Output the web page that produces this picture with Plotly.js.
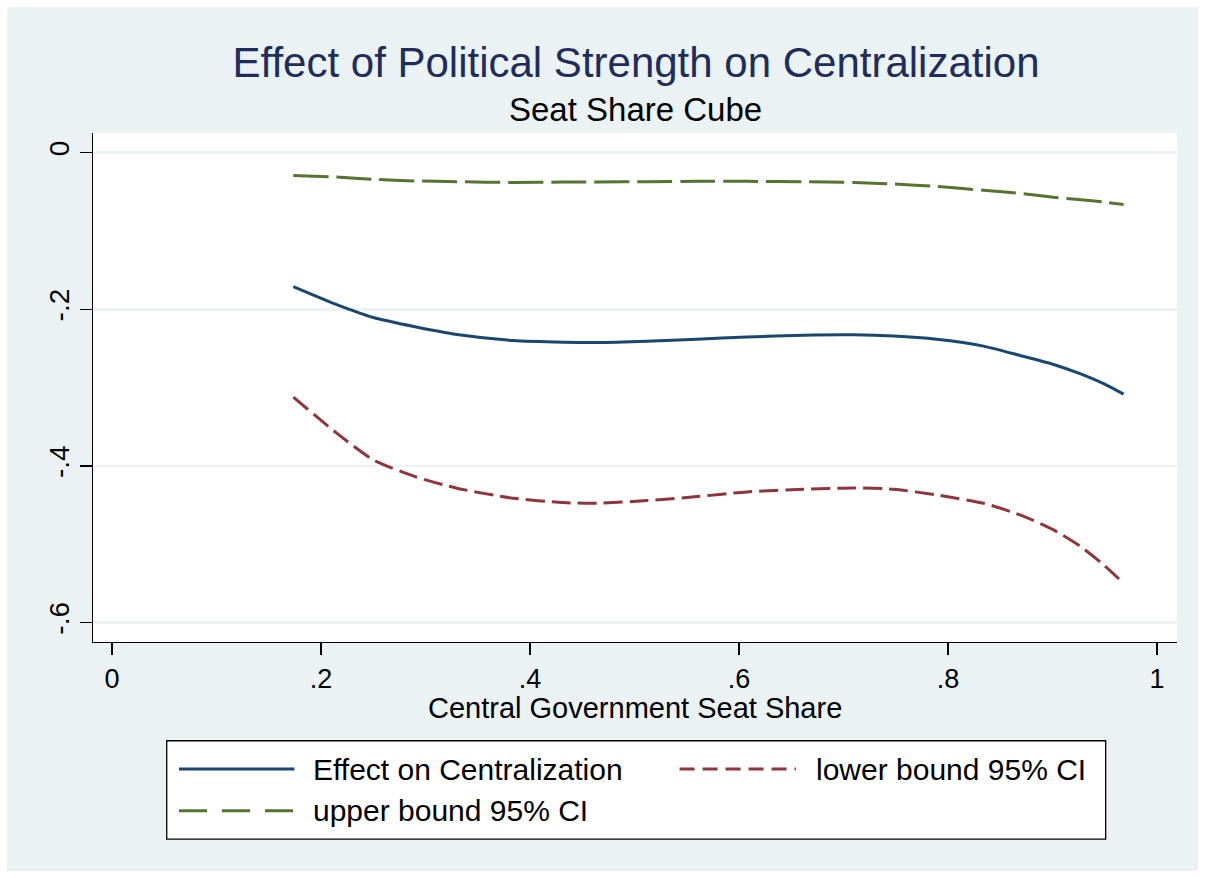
<!DOCTYPE html>
<html>
<head>
<meta charset="utf-8">
<script src="https://cdn.plot.ly/plotly-3.0.1.min.js"></script>
<style>
  html, body { margin: 0; padding: 0; background: #ffffff; width: 1205px; height: 878px; overflow: hidden; }
  #chart { position: absolute; left: 7px; top: 7px; width: 1191px; height: 864px; }
</style>
</head>
<body>
<div id="chart"></div>
<script>
// ---- data ----
const seatShare = [0.1735, 0.215, 0.25, 0.29, 0.33, 0.384, 0.432, 0.464, 0.512, 0.56, 0.6075,
                   0.662, 0.71, 0.748, 0.789, 0.834, 0.869, 0.901, 0.927, 0.949, 0.968];
const effect = [-0.171, -0.194, -0.2105, -0.2223, -0.2322, -0.2399, -0.2420, -0.2424, -0.2407, -0.2381, -0.2355,
                -0.2331, -0.2326, -0.2342, -0.2383, -0.2470, -0.2590, -0.2705, -0.2825, -0.2950, -0.3084];
const lowerCI = [-0.3122, -0.3582, -0.3923, -0.4137, -0.4285, -0.4413, -0.4469, -0.4477, -0.4443, -0.4392, -0.4332,
                 -0.4298, -0.4281, -0.4298, -0.4371, -0.4477, -0.4626, -0.4818, -0.5031, -0.5265, -0.5499];
const upperCI = [-0.029, -0.031, -0.034, -0.036, -0.037, -0.038, -0.0375, -0.0374, -0.037, -0.0365, -0.0366,
                 -0.037, -0.038, -0.040, -0.043, -0.048, -0.052, -0.057, -0.060, -0.063, -0.066];
const seriesNames = ["Effect on Centralization", "lower bound 95% CI", "upper bound 95% CI"];
const xTickVals = [0, 0.2, 0.4, 0.6, 0.8, 1];
const xTickText = ["0", ".2", ".4", ".6", ".8", "1"];
const yTickVals = [0, -0.2, -0.4, -0.6];
const yTickText = ["0", "-.2", "-.4", "-.6"];
const titleText = "Effect of Political Strength on Centralization";
const subtitleText = "Seat Share Cube";
const xTitleText = "Central Government Seat Share";

// ---- styles ----
const NAVY = "#1a476f", MAROON = "#90353b", GREEN = "#55752f";
const BG = "#eaf2f3";
const FONT = "Liberation Sans, Arial, sans-serif";

// geometry (div is offset 7px inside the page)
const W = 1191, H = 864;
const M = { l: 86, r: 21.3, t: 126.3, b: 229 };
const PW = W - M.l - M.r, PH = H - M.t - M.b;
// page pixel -> paper coords
function px(X) { return (X - 7 - M.l) / PW; }
function py(Y) { return (H - M.b - (Y - 7)) / PH; }

const traces = [
  { x: seatShare, y: effect, name: seriesNames[0], type: "scatter", mode: "lines",
    line: { color: NAVY, width: 3, shape: "spline", smoothing: 0.6 } },
  { x: seatShare, y: lowerCI, name: seriesNames[1], type: "scatter", mode: "lines",
    line: { color: MAROON, width: 3, dash: "19px,7px", shape: "spline", smoothing: 0.6 } },
  { x: seatShare, y: upperCI, name: seriesNames[2], type: "scatter", mode: "lines",
    line: { color: GREEN, width: 3, dash: "35px,8px", shape: "spline", smoothing: 0.6 } }
];

// custom legend (Stata style)
const leg = { x0: 166.7, x1: 1105.4, y0: 740.7, y1: 839 };
const rows = [769, 810.7];
const shapes = [
  { type: "rect", xref: "paper", yref: "paper", x0: px(leg.x0), x1: px(leg.x1), y0: py(leg.y1), y1: py(leg.y0),
    fillcolor: "#ffffff", line: { color: "#000000", width: 1.3 } },
  { type: "line", xref: "paper", yref: "paper", x0: px(179), x1: px(294.3), y0: py(rows[0]), y1: py(rows[0]),
    line: { color: NAVY, width: 3 } },
  { type: "line", xref: "paper", yref: "paper", x0: px(679.4), x1: px(795.7), y0: py(rows[0]), y1: py(rows[0]),
    line: { color: MAROON, width: 3, dash: "15px,8px" } },
  { type: "line", xref: "paper", yref: "paper", x0: px(179), x1: px(294.3), y0: py(rows[1]), y1: py(rows[1]),
    line: { color: GREEN, width: 3, dash: "28px,15px" } }
];
const legFont = { family: FONT, size: 30, color: "#000000" };
const annotations = [
  { text: subtitleText, xref: "paper", yref: "paper", x: px(635), y: py(110), xanchor: "center", yanchor: "middle",
    showarrow: false, font: { family: FONT, size: 33, color: "#000000" } },
  { text: seriesNames[0], xref: "paper", yref: "paper", x: px(311), y: py(rows[0]), xanchor: "left", yanchor: "middle",
    showarrow: false, font: legFont },
  { text: seriesNames[1], xref: "paper", yref: "paper", x: px(814), y: py(rows[0]), xanchor: "left", yanchor: "middle",
    showarrow: false, font: legFont },
  { text: seriesNames[2], xref: "paper", yref: "paper", x: px(311), y: py(rows[1]), xanchor: "left", yanchor: "middle",
    showarrow: false, font: legFont },
  { text: xTitleText, xref: "paper", yref: "paper", x: px(635), y: py(708), xanchor: "center", yanchor: "middle",
    showarrow: false, font: { family: FONT, size: 29, color: "#000000" } }
];

const layout = {
  width: W, height: H,
  margin: M,
  paper_bgcolor: BG,
  plot_bgcolor: "#ffffff",
  showlegend: false,
  font: { family: FONT, color: "#000000" },
  title: { text: titleText, x: (636 - 7) / W, xanchor: "center", xref: "container",
           y: 1 - (62 - 7) / H, yanchor: "middle", yref: "container",
           font: { family: FONT, size: 42, color: "#1f2d5c" } },
  xaxis: {
    range: [(93 - 112) / 1044.7, (1176.7 - 112) / 1044.7],
    tickvals: xTickVals, ticktext: xTickText,
    ticks: "outside", ticklen: 12, tickwidth: 1.3, tickcolor: "#000000",
    tickfont: { family: FONT, size: 27, color: "#000000" },
    showline: true, linecolor: "#000000", linewidth: 1.3,
    showgrid: false, zeroline: false, automargin: false, fixedrange: true
  },
  yaxis: {
    range: [-0.6 - (642 - 622.5) / 782.5, (153 - 133.3) / 782.5],
    tickvals: yTickVals, ticktext: yTickText, tickangle: -90,
    ticks: "outside", ticklen: 12, tickwidth: 1.3, tickcolor: "#000000",
    tickfont: { family: FONT, size: 28, color: "#000000" },
    showline: true, linecolor: "#000000", linewidth: 1.3,
    showgrid: true, gridcolor: BG, gridwidth: 2.5,
    zeroline: false, automargin: false, fixedrange: true
  },
  shapes: shapes,
  annotations: annotations
};

Plotly.newPlot("chart", traces, layout, { displayModeBar: false, staticPlot: true });
</script>
</body>
</html>
